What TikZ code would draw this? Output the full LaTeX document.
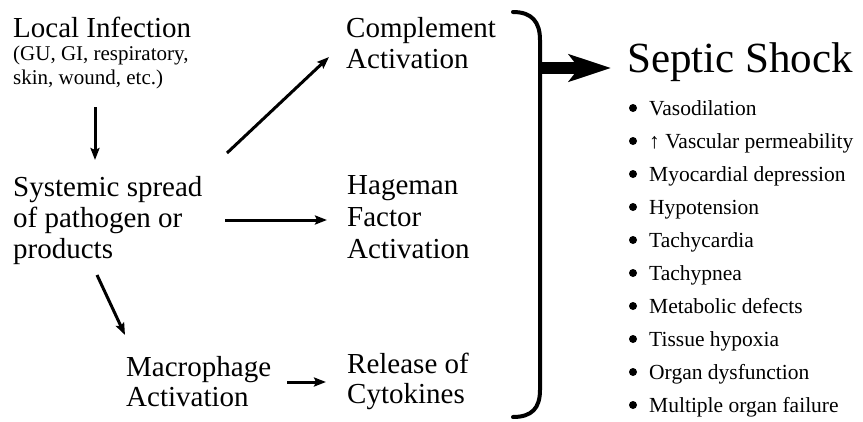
\documentclass[tikz,border=0pt]{standalone}
\usepackage{fontspec}
\setmainfont{Liberation Serif}
\usetikzlibrary{arrows.meta,calc}
\begin{document}
\begin{tikzpicture}[x=1pt,y=-1pt,
  txt/.style={anchor=base west, inner sep=0pt, align=left},
  big/.style={txt, font=\fontsize{29}{31}\selectfont},
  small/.style={txt, font=\fontsize{21}{24}\selectfont},
  item/.style={txt, font=\fontsize{21.5}{24}\selectfont},
  arr/.style={line width=3pt, -{Stealth[length=12pt,width=9pt,inset=2pt]}},
  bigarr/.style={line width=12pt, -{Stealth[length=42pt,width=27pt,inset=10pt]}},
  brace/.style={line width=4pt, line cap=round},
  dot/.style={circle, fill=black, inner sep=0pt, minimum size=8pt}
]
\useasboundingbox[fill=white] (0,0) rectangle (863,421);

% left column (anchors are the baselines of the last lines)
\node[big] (loc) at (13,37) {Local Infection};
\node[small] (locsub) at (13,84) {(GU, GI, respiratory,\\skin, wound, etc.)};
\node[big] (sys) at (13,258) {Systemic spread\\of pathogen or\\products};
\node[big, font=\fontsize{29}{30}\selectfont] (mac) at (126,406) {Macrophage\\Activation};

% middle column
\node[big] (comp) at (346,68) {Complement\\Activation};
\node[big, font=\fontsize{29}{32}\selectfont] (hag) at (347,258) {Hageman\\Factor\\Activation};
\node[big, font=\fontsize{29}{30}\selectfont] (rel) at (347,403) {Release of\\Cytokines};

% right
\node[txt, font=\fontsize{43}{48}\selectfont] (septic) at (627,72) {Septic Shock};
\foreach \t [count=\i] in {Vasodilation, {↑ Vascular permeability}, Myocardial depression,
  Hypotension, Tachycardia, Tachypnea, Metabolic defects, Tissue hypoxia,
  Organ dysfunction, Multiple organ failure} {
  \node[item] (it\i) at (649, 82+33*\i) {\t};
  \node[dot] (b\i) at ($(it\i.base west)+(-16,-7)$) {};
}

% connectors
\draw[arr] ($(locsub.base west)+(82,23)$) -- ($(sys.base west)+(82,-98)$);
\draw[arr] ($(sys.base west)+(214,-105)$) -- ($(comp.base west)+(-17,-11)$);
\draw[arr] ($(sys.base west)+(212,-38)$) -- ($(hag.base west)+(-20,-38)$);
\draw[arr] ($(sys.base west)+(84,17)$) -- ($(mac.base west)+(-1,-71)$);
\draw[arr] ($(mac.base west)+(161,-24)$) -- ($(rel.base west)+(-21,-21)$);

% brace
\draw[brace] (513,12) .. controls (532,12) and (540,22) .. (540,40)
  -- (540,390) .. controls (540,408) and (532,417) .. (513,417);
\coordinate (bm) at (538,68);
\draw[bigarr] (bm) -- ($(septic.base west)+(-16,-4)$);
\end{tikzpicture}
\end{document}
